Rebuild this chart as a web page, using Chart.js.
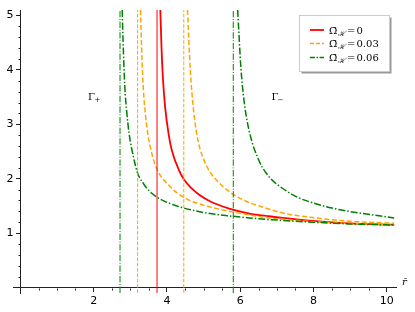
<!DOCTYPE html>
<html>
<head>
<meta charset="utf-8">
<script src="https://cdn.jsdelivr.net/npm/chart.js@4.4.1/dist/chart.umd.min.js"></script>
<style>
  html, body { margin: 0; padding: 0; background: #fff; }
  #wrap { width: 415px; height: 312px; }
</style>
</head>
<body>
<div id="wrap"><canvas id="chart" width="415" height="312"></canvas></div>
<script>
// Omega_H = 0 (both branches coincide)
const rOmega0 = [3.82, 3.85, 3.89, 3.95, 4.05, 4.13, 4.34, 4.48, 4.66, 4.89, 5.16, 5.7, 6.25, 6.79, 7.16, 8.06, 8.97, 10.2];
const gOmega0 = [5.1, 4.45, 3.85, 3.32, 2.8, 2.53, 2.14, 1.97, 1.83, 1.7, 1.59, 1.45, 1.36, 1.31, 1.28, 1.22, 1.18, 1.155];

// Omega_H = 0.03
const rPlus003 = [3.28, 3.3, 3.35, 3.41, 3.47, 3.6, 3.73, 4.05, 4.47, 5.08, 5.79, 6.79, 8.06, 8.97, 10.2];
const gPlus003 = [5.1, 4.6, 3.72, 3.2, 2.86, 2.43, 2.17, 1.88, 1.65, 1.5, 1.39, 1.28, 1.21, 1.18, 1.15];
const rMinus003 = [4.56, 4.64, 4.72, 4.8, 4.89, 5.0, 5.16, 5.43, 5.79, 6.25, 6.52, 7.16, 8.06, 8.97, 10.2];
const gMinus003 = [5.1, 3.97, 3.3, 2.88, 2.58, 2.36, 2.14, 1.92, 1.72, 1.56, 1.5, 1.37, 1.28, 1.22, 1.18];

// Omega_H = 0.06
const rPlus006 = [2.78, 2.8, 2.85, 2.9, 2.97, 3.11, 3.2, 3.34, 3.47, 3.73, 4.1, 4.47, 5.08, 5.79, 6.25, 6.79, 8.0, 8.97, 10.2];
const gPlus006 = [5.1, 4.6, 3.7, 3.25, 2.82, 2.33, 2.1, 1.93, 1.81, 1.66, 1.54, 1.46, 1.37, 1.31, 1.28, 1.25, 1.2, 1.17, 1.15];
const rMinus006 = [5.93, 6.02, 6.11, 6.25, 6.52, 6.7, 6.88, 7.16, 7.56, 8.06, 8.5, 8.97, 9.34, 10.2];
const gMinus006 = [5.1, 4.02, 3.4, 2.86, 2.32, 2.11, 1.97, 1.82, 1.66, 1.54, 1.46, 1.4, 1.36, 1.28];

// vertical asymptotes
const asymOmega0 = [3.73];
const asymOmega003 = [3.2, 4.46];
const asymOmega006 = [2.72, 5.81];

const xTicks = [2, 4, 6, 8, 10];
const yTicks = [1, 2, 3, 4, 5];
const legendValues = ['0', '0.03', '0.06'];

const X_MIN = -0.2, X_MAX = 10.25, Y_MIN = -0.1, Y_MAX = 5.1;
const RED = '#ff0000', ORANGE = '#ffa500', GREEN = '#008000';
const DASH = [5, 2.5], DASHDOT = [7, 2, 1.5, 2];
const DASH_THIN = [3.7, 1.6], DASHDOT_THIN = [6.4, 1.6, 1, 1.6];

const pairs = (xs, ys) => xs.map((x, i) => ({ x: x, y: ys[i] }));

function curve(xs, ys, color, dash, width) {
  return {
    data: pairs(xs, ys), borderColor: color, borderWidth: width || 1.5,
    borderDash: dash, showLine: true, pointRadius: 0,
    cubicInterpolationMode: 'monotone', fill: false
  };
}
function vline(r, color, dash) {
  return {
    data: [{ x: r, y: Y_MIN }, { x: r, y: Y_MAX }], borderColor: color,
    borderWidth: 1, borderDash: dash, showLine: true, pointRadius: 0
  };
}

const datasets = [
  ...asymOmega006.map(r => vline(r, GREEN, DASHDOT_THIN)),
  ...asymOmega003.map(r => vline(r, ORANGE, DASH_THIN)),
  ...asymOmega0.map(r => vline(r, RED, [])),
  curve(rPlus006, gPlus006, GREEN, DASHDOT),
  curve(rMinus006, gMinus006, GREEN, DASHDOT),
  curve(rPlus003, gPlus003, ORANGE, DASH),
  curve(rMinus003, gMinus003, ORANGE, DASH),
  curve(rOmega0, gOmega0, RED, [], 1.8)
];

// minor ticks, y labels, legend and the little labels
const decor = {
  id: 'decor',
  afterDraw(chart) {
    const { ctx, scales: { x, y } } = chart;
    const x0 = Math.round(x.getPixelForValue(0)) + 0.5;
    const y0 = Math.round(y.getPixelForValue(0)) + 0.5;
    ctx.save();
    ctx.strokeStyle = '#222';
    ctx.lineWidth = 1;
    ctx.beginPath();
    for (let i = 1; i * 0.5 <= 10; i++) {
      if (i % 4 === 0) continue;
      const px = Math.round(x.getPixelForValue(i * 0.5)) + 0.5;
      ctx.moveTo(px, y0); ctx.lineTo(px, y0 + 2);
    }
    for (let i = 1; i * 0.2 <= 5.001; i++) {
      if (i % 5 === 0) continue;
      const py = Math.round(y.getPixelForValue(i * 0.2)) + 0.5;
      ctx.moveTo(x0, py); ctx.lineTo(x0 - 2, py);
    }
    ctx.stroke();

    // y tick labels (chart.js puts them flush against a centred axis)
    ctx.fillStyle = '#000';
    ctx.font = '11px "DejaVu Sans"';
    ctx.textAlign = 'right';
    ctx.textBaseline = 'middle';
    yTicks.forEach(v => ctx.fillText(String(v), x0 - 7, y.getPixelForValue(v)));
    ctx.textAlign = 'left';

    // axis label r-bar
    ctx.font = 'italic 10px "DejaVu Serif"';
    ctx.textBaseline = 'alphabetic';
    ctx.fillText('r\u0304', 402, 285);

    // Gamma labels
    ctx.font = '10px "DejaVu Serif"';
    ctx.fillText('\u0393', 88, 100);
    ctx.fillText('\u0393', 271.5, 100);
    ctx.font = '7px "DejaVu Serif"';
    ctx.fillText('+', 94.5, 102);
    ctx.fillText('\u2212', 277.5, 102);

    // legend
    const bx = 299.5, by = 15.5, bw = 90, bh = 56;
    ctx.fillStyle = '#999';
    ctx.fillRect(bx + 2, by + 2, bw, bh);
    ctx.fillStyle = '#fff';
    ctx.fillRect(bx, by, bw, bh);
    ctx.strokeStyle = '#ccc';
    ctx.strokeRect(bx, by, bw, bh);
    const rows = [30, 43.5, 57.5];
    const styles = [[RED, [], 1.8], [ORANGE, [4, 2], 1.5], [GREEN, [5, 1.5, 1.5, 1.5], 1.5]];
    rows.forEach((ry, i) => {
      ctx.strokeStyle = styles[i][0];
      ctx.setLineDash(styles[i][1]);
      ctx.lineWidth = styles[i][2];
      ctx.beginPath();
      ctx.moveTo(310, ry); ctx.lineTo(324, ry);
      ctx.stroke();
      ctx.setLineDash([]);
      ctx.fillStyle = '#000';
      ctx.font = '10px "DejaVu Serif"';
      ctx.fillText('\u03A9\u0304', 329, ry + 3.5);
      ctx.font = 'italic 7px "DejaVu Serif"';
      ctx.fillText('\u210B', 337.5, ry + 5.5);
      ctx.font = '10px "DejaVu Serif"';
      ctx.fillText('=', 347, ry + 3.5);
      ctx.fillText(legendValues[i], 356.5, ry + 3.5);
    });
    ctx.restore();
  }
};

new Chart(document.getElementById('chart'), {
  type: 'scatter',
  data: { datasets: datasets },
  options: {
    responsive: false,
    animation: false,
    devicePixelRatio: 1,
    layout: { padding: { left: 13, right: 19, top: 10, bottom: 19 } },
    plugins: { legend: { display: false }, tooltip: { enabled: false } },
    scales: {
      x: {
        type: 'linear', min: X_MIN, max: X_MAX, position: { y: 0 },
        afterBuildTicks: s => { s.ticks = xTicks.map(v => ({ value: v })); },
        ticks: { font: { family: 'DejaVu Sans', size: 11 }, color: '#000', padding: 3, maxRotation: 0, autoSkip: false },
        grid: { drawOnChartArea: false, tickLength: 4, color: '#222' },
        border: { color: '#222', width: 1 }
      },
      y: {
        type: 'linear', min: Y_MIN, max: Y_MAX, position: { x: 0 },
        afterBuildTicks: s => { s.ticks = yTicks.map(v => ({ value: v })); },
        ticks: { display: false },
        grid: { drawOnChartArea: false, tickLength: 4, color: '#222' },
        border: { color: '#222', width: 1 }
      }
    }
  },
  plugins: [decor]
});
</script>
</body>
</html>
